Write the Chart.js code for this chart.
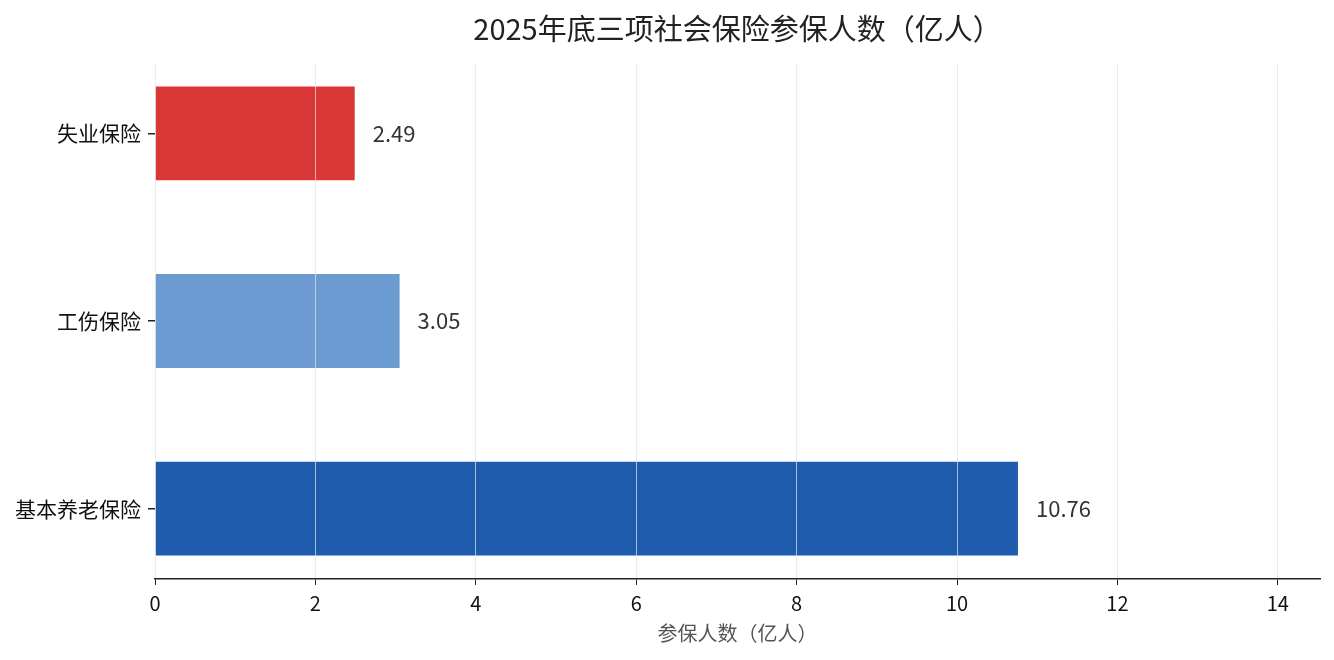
<!DOCTYPE html>
<html>
<head>
<meta charset="utf-8">
<script src="https://cdn.jsdelivr.net/npm/chart.js@4/dist/chart.umd.min.js"></script>
<style>
  html, body { margin: 0; padding: 0; background: #fff; }
  #wrap { width: 1334px; height: 660px; }
</style>
</head>
<body>
<div id="wrap"><canvas id="chart" width="1334" height="660"></canvas></div>
<script>
// data (bottom to top)
const categories = ['基本养老保险', '工伤保险', '失业保险'];
const insured = [10.76, 3.05, 2.49];
const barColors = ['#1F5CAE', '#6C9BD2', '#D93836'];
const xTicks = [0, 2, 4, 6, 8, 10, 12, 14];

const chartTitle = '2025年底三项社会保险参保人数（亿人）';
const xTitle = '参保人数（亿人）';
const FONT = "'Noto Sans CJK SC', 'Noto Sans', sans-serif";

// title centred over the plot area
const titlePlugin = {
    id: 'plotTitle',
    afterDraw(chart) {
        const { ctx, chartArea } = chart;
        ctx.save();
        ctx.font = '29px ' + FONT;
        ctx.fillStyle = '#222';
        ctx.textAlign = 'center';
        ctx.textBaseline = 'middle';
        ctx.fillText(chartTitle, (chartArea.left + chartArea.right) / 2, 29);
        ctx.restore();
    }
};

// value labels to the right of each bar
const valueLabels = {
    id: 'valueLabels',
    afterDatasetsDraw(chart) {
        const { ctx } = chart;
        const meta = chart.getDatasetMeta(0);
        ctx.save();
        ctx.font = '22px ' + FONT;
        ctx.fillStyle = '#333';
        ctx.textAlign = 'left';
        ctx.textBaseline = 'middle';
        meta.data.forEach((bar, i) => {
            ctx.fillText(insured[i].toFixed(2), bar.x + 18, bar.y);
        });
        ctx.restore();
    }
};

function initChart() {
    const ctx = document.getElementById('chart').getContext('2d');
    new Chart(ctx, {
        type: 'bar',
        data: {
            datasets: [{
                data: insured.map((v, i) => ({ x: v, y: i })),
                backgroundColor: barColors,
                borderWidth: 0,
                barPercentage: 0.5,
                categoryPercentage: 1
            }]
        },
        options: {
            indexAxis: 'y',
            responsive: false,
            animation: false,
            layout: { padding: { top: 63, right: 14, left: 0, bottom: 15 } },
            plugins: {
                legend: { display: false },
                tooltip: { enabled: false }
            },
            scales: {
                x: {
                    type: 'linear',
                    min: 0,
                    max: 10.76 * 1.35,
                    afterBuildTicks: axis => { axis.ticks = xTicks.map(v => ({ value: v })); },
                    grid: {
                        z: 1,
                        color: 'rgba(228,228,228,0.7)',
                        lineWidth: 1,
                        tickColor: '#222',
                        tickLength: 6
                    },
                    border: { display: true, color: '#222', width: 1.5, z: 2 },
                    ticks: {
                        color: '#111',
                        font: { family: FONT, size: 20 },
                        padding: 6
                    },
                    title: {
                        display: true,
                        text: xTitle,
                        color: '#555',
                        font: { family: FONT, size: 20 },
                        padding: { top: 0, bottom: 0 }
                    }
                },
                y: {
                    type: 'linear',
                    min: -0.375,
                    max: 2.375,
                    offset: false,
                    afterBuildTicks: axis => { axis.ticks = categories.map((_, i) => ({ value: i })); },
                    afterFit: axis => { axis.width = 155; },
                    grid: {
                        offset: false,
                        drawOnChartArea: false,
                        tickColor: '#222',
                        tickLength: 7,
                        lineWidth: 1.5
                    },
                    border: { display: false },
                    ticks: {
                        color: '#111',
                        font: { family: FONT, size: 21 },
                        padding: 7,
                        callback: v => categories[v] ?? ''
                    }
                }
            }
        },
        plugins: [titlePlugin, valueLabels]
    });
}

document.addEventListener('DOMContentLoaded', initChart);
</script>
</body>
</html>
